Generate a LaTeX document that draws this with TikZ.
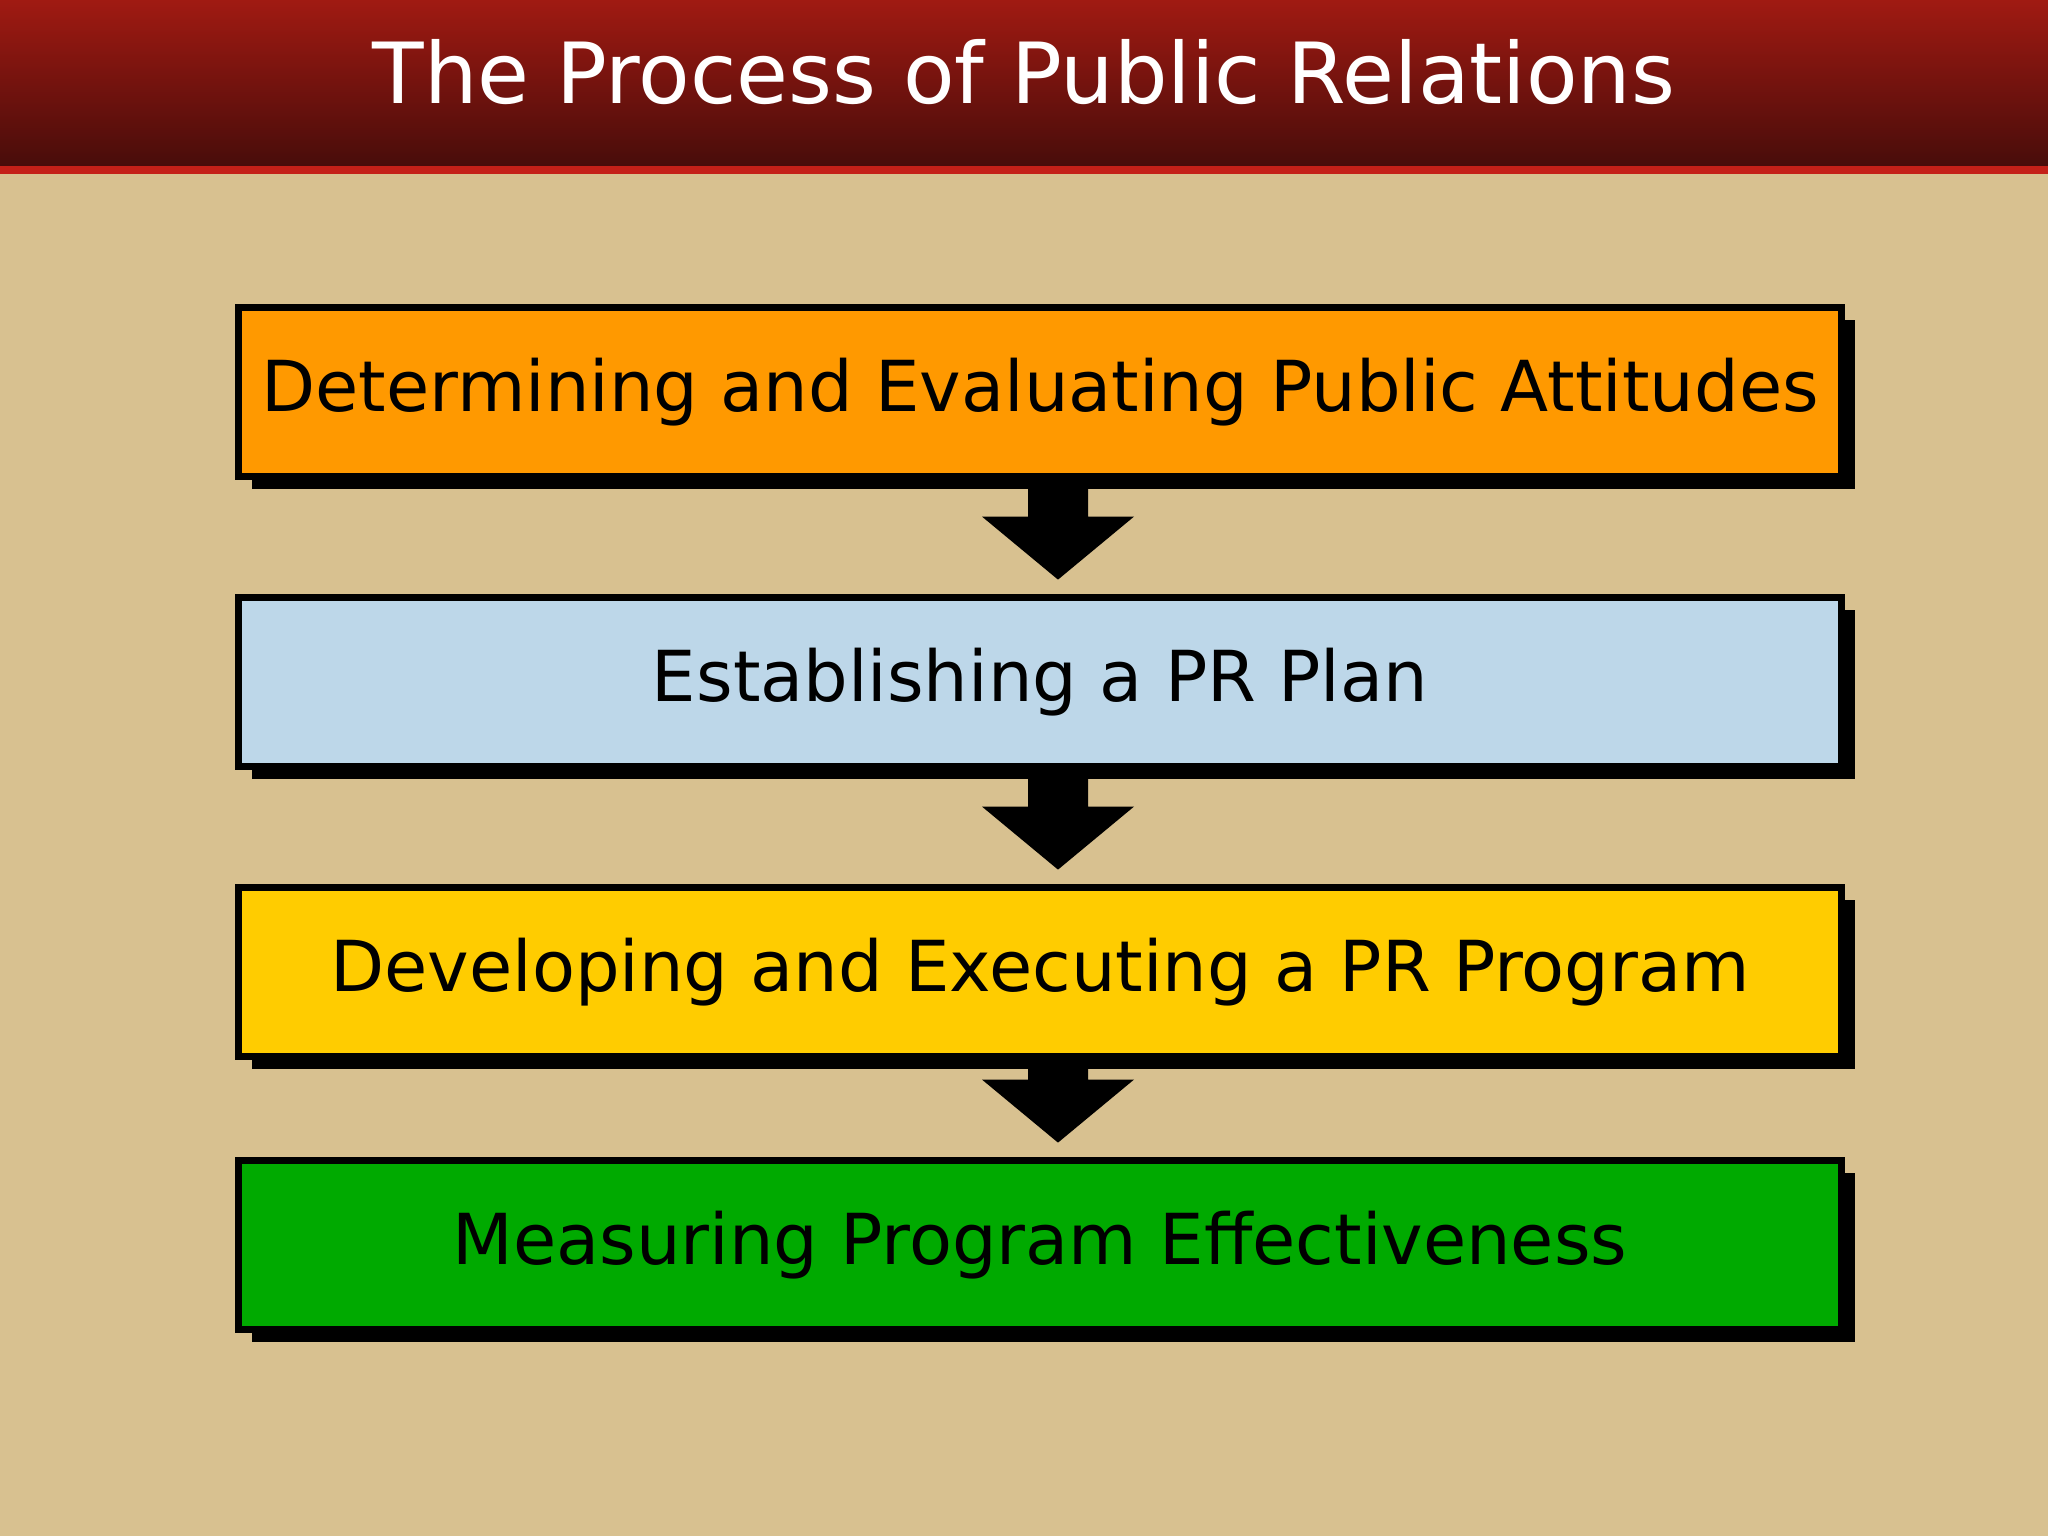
\documentclass[tikz,border=0pt]{standalone}
\usepackage{fontspec}
\setmainfont{DejaVu Sans}
\usetikzlibrary{calc,shadows}
\definecolor{bgc}{RGB}{216,193,144}
\definecolor{topred}{RGB}{160,26,18}
\definecolor{botred}{RGB}{70,12,10}
\definecolor{linered}{RGB}{196,32,24}
\definecolor{c1}{RGB}{255,153,0}
\definecolor{c2}{RGB}{189,215,233}
\definecolor{c3}{RGB}{255,204,0}
\definecolor{c4}{RGB}{0,170,0}
\tikzset{
 box/.style={draw=black, line width=2.2pt, minimum width=16.03cm, minimum height=1.69cm,
   inner sep=0pt, font=\fontsize{20}{24}\selectfont,
   general shadow={fill=black, shadow xshift=0.13cm, shadow yshift=-0.13cm}},
 arr/.style={fill=black}
}
\begin{document}
\begin{tikzpicture}
\useasboundingbox (0,0) rectangle (20.48,15.36);
\fill[bgc] (0,0) rectangle (20.48,15.36);
\shade[top color=topred, bottom color=botred] (0,13.66) rectangle (20.48,15.36);
\fill[linered] (0,13.62) rectangle (20.48,13.70);
\node[text=white, font=\fontsize{24}{28}\selectfont] (title) at (10.24,14.64) {The Process of Public Relations};
\node[box, fill=c1] (b1) at (10.40,11.44) {Determining and Evaluating Public Attitudes};
\node[box, fill=c2] (b2) at (10.40,8.54) {Establishing a PR Plan};
\node[box, fill=c3] (b3) at (10.40,5.64) {Developing and Executing a PR Program};
\node[box, fill=c4] (b4) at (10.40,2.91) {Measuring Program Effectiveness};
\foreach \a/\b in {b1/b2,b2/b3,b3/b4}{
 \coordinate (T) at ($(\b.north)+(0.18,0.14)$);
 \fill[arr] (T) -- ($(T)+(-0.76,0.63)$) -- ($(T)+(-0.30,0.63)$) -- ($(\a.south)+(-0.12,0)$)
   -- ($(\a.south)+(0.48,0)$) -- ($(T)+(0.30,0.63)$) -- ($(T)+(0.76,0.63)$) -- cycle;
}
\end{tikzpicture}
\end{document}
